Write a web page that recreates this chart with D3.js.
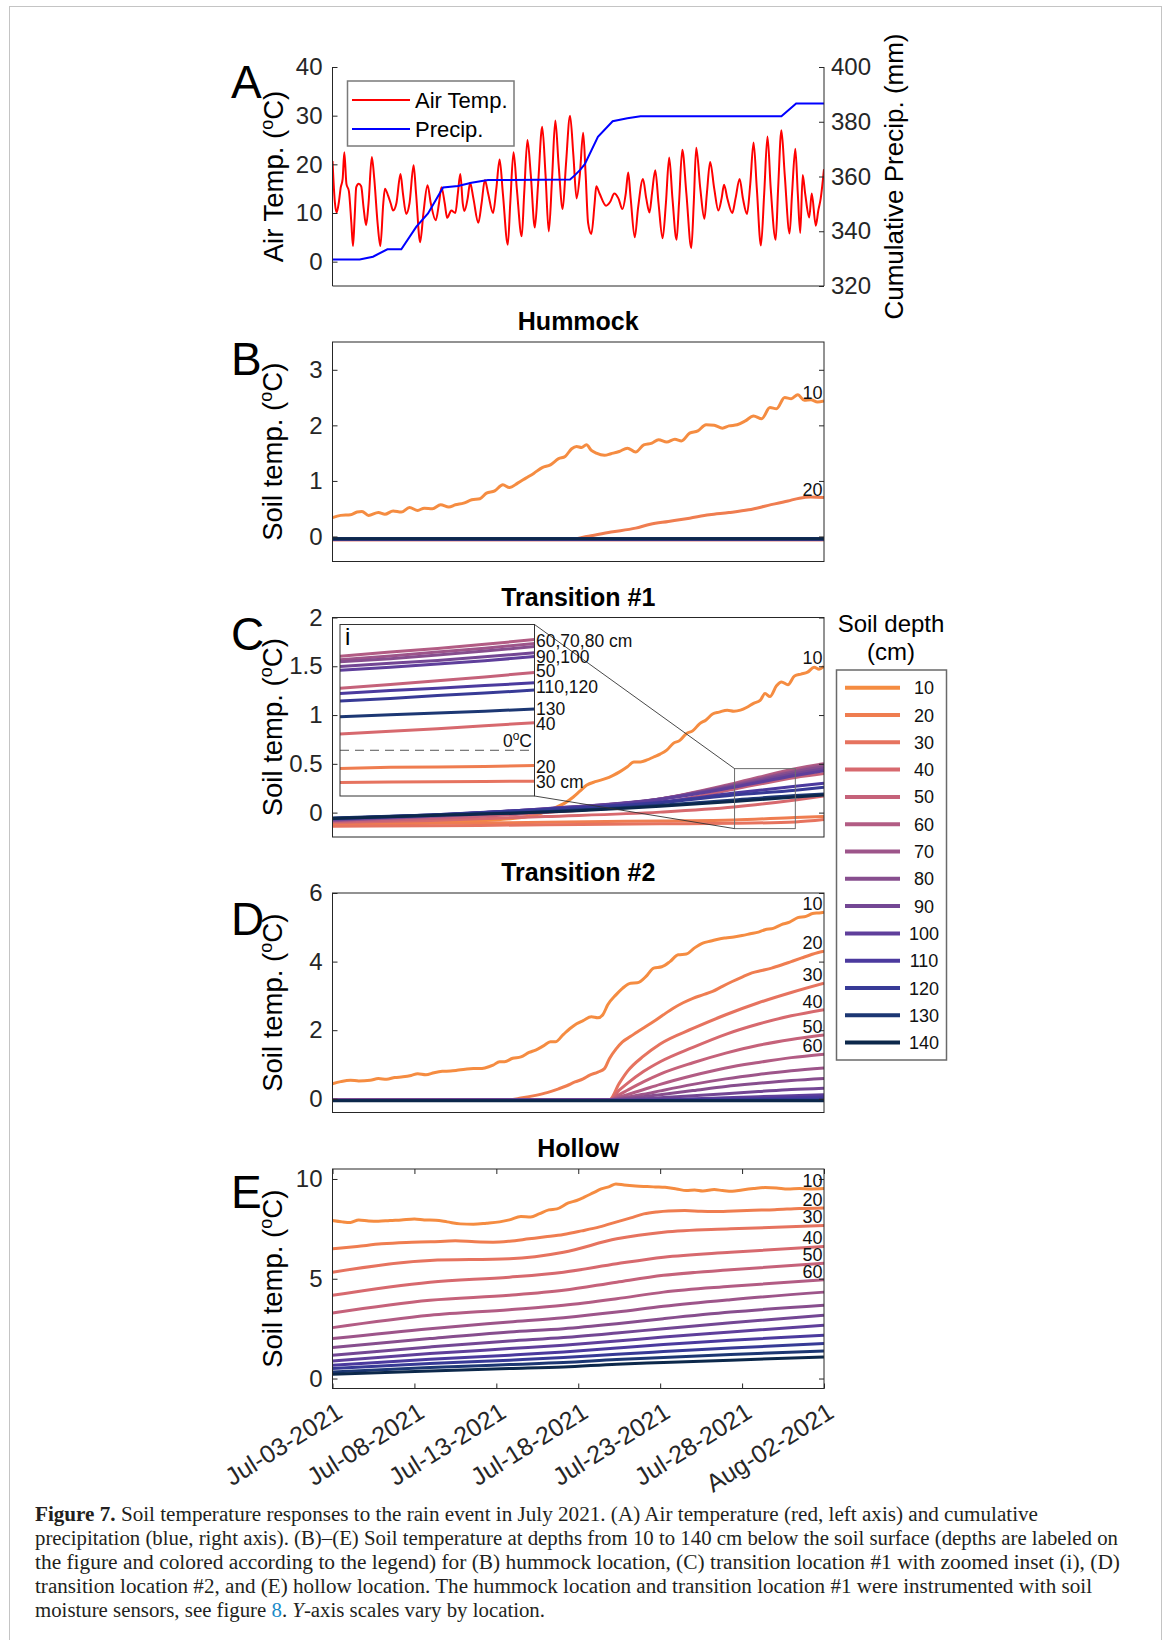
<!DOCTYPE html>
<html><head><meta charset="utf-8">
<script src="https://cdn.jsdelivr.net/npm/d3@7"></script>
<style>
body{margin:0;background:#fff;}
svg{display:block;font-family:"Liberation Sans",Arial,Helvetica,sans-serif;}
</style></head><body>
<svg id="fig" width="1171" height="1640"></svg>
<script>
// ================= DATA =================
const startDate = Date.UTC(2021, 6, 3);
const endDate = Date.UTC(2021, 7, 2);
const dateTicks = [0, 5, 10, 15, 20, 25, 30]; // days after Jul-03-2021
const depths = [10, 20, 30, 40, 50, 60, 70, 80, 90, 100, 110, 120, 130, 140];
const depthColors = ["#f58c41", "#ef7d50", "#e6735f", "#d7696e", "#c5627a", "#b25c84", "#9d558a",
  "#874e8e", "#734794", "#5f3f9b", "#4b3a9e", "#373a96", "#1c3773", "#0c284b"];

const airTicks = [0, 10, 20, 30, 40];
const precipTicks = [320, 340, 360, 380, 400];
const hummockTicks = [0, 1, 2, 3];
const trans1Ticks = [0, 0.5, 1, 1.5, 2];
const trans2Ticks = [0, 2, 4, 6];
const hollowTicks = [0, 5, 10];

// Panel A: air temperature [day, degC]
const airTemp = [[0,20.7],[0.15,12],[0.25,10.1],[0.4,12.5],[0.5,15.2],[0.62,17],[0.72,22.5],[0.85,16],[1,14.5],[1.15,8],[1.25,3.2],[1.35,9],[1.45,15.3],[1.6,16],[1.75,15.5],[1.9,11],[2.05,7.5],[2.2,12],[2.4,21.5],[2.55,17],[2.75,8],[2.92,3.2],[3.1,12],[3.2,15],[3.4,13.5],[3.55,12],[3.7,10.5],[3.9,12],[4.15,18],[4.3,14],[4.5,9.8],[4.7,12],[4.95,19.8],[5.1,14],[5.35,4],[5.55,10],[5.8,15.7],[6,12],[6.3,8.5],[6.5,12],[6.65,15.3],[6.85,12],[7,9],[7.25,10.5],[7.5,10],[7.65,14],[7.8,18],[7.95,12],[8.05,10.4],[8.25,13],[8.4,16.2],[8.6,13],[8.9,8],[9.1,12],[9.3,16.8],[9.5,14],[9.8,10],[10,15],[10.2,21],[10.4,14],[10.7,3.5],[10.85,12],[11.05,22.5],[11.25,15],[11.55,5.2],[11.7,14],[11.9,25],[12.1,18],[12.35,7],[12.55,16],[12.8,27.7],[13,18],[13.2,6.2],[13.4,17],[13.6,29],[13.8,20],[14.05,10.8],[14.25,20],[14.5,30],[14.7,22],[14.9,13],[15.1,18],[15.3,26.5],[15.45,18],[15.6,8],[15.8,5.7],[16,12],[16.1,15.5],[16.3,14],[16.7,11.5],[16.95,12.3],[17.2,14],[17.45,13],[17.7,10.8],[17.9,14],[18.05,18.3],[18.2,13],[18.45,5],[18.65,11],[18.95,17],[19.15,13],[19.35,10.1],[19.5,14],[19.7,18.8],[19.9,12],[20.15,4.8],[20.35,12],[20.55,21.4],[20.75,13],[21,4.5],[21.15,12],[21.35,23],[21.6,14],[21.9,2.8],[22.05,12],[22.2,23.4],[22.45,15],[22.7,8.8],[22.85,14],[23.05,20.5],[23.3,15],[23.55,10.5],[23.75,13],[23.9,15.8],[24.1,13],[24.4,10],[24.6,13],[24.85,17],[25.05,13],[25.3,9.8],[25.5,16],[25.7,24.5],[25.9,15],[26.15,3.3],[26.35,14],[26.55,25.7],[26.75,15],[27.05,4.5],[27.2,15],[27.4,27],[27.6,18],[27.9,5.8],[28.05,14],[28.25,23.2],[28.4,14],[28.55,5.9],[28.7,17.8],[28.85,14],[29.1,9.1],[29.25,14],[29.5,7.4],[29.65,10.5],[29.8,13],[30,19]];

// Panel A: cumulative precipitation [day, mm]
const cumPrecip = [[0,329.7],[1.66,329.7],[2.47,330.7],[3.35,333.4],[4.2,333.4],[5.12,341.7],[5.83,346.5],[6.75,356],[7.66,356.5],[8.48,357.7],[9.49,358.7],[14.5,358.9],[14.8,360.5],[15.1,362.3],[15.4,364.5],[16.2,374.5],[17.1,380.2],[18,381.3],[18.8,382],[27.4,382],[28.3,386.7],[30,386.7]];

// Panel B: hummock
const hummockLine10 = [[0,0.34],[0.5,0.38],[1.1,0.39],[1.5,0.44],[1.8,0.45],[2.2,0.38],[2.8,0.43],[3.2,0.4],[3.7,0.46],[4.2,0.44],[4.7,0.52],[5.2,0.47],[5.6,0.51],[6.1,0.5],[6.6,0.57],[7.1,0.53],[7.5,0.57],[8,0.6],[8.5,0.66],[9,0.68],[9.4,0.78],[9.9,0.82],[10.4,0.93],[10.8,0.88],[11.3,0.96],[11.8,1.05],[12.3,1.14],[12.8,1.24],[13.3,1.29],[13.8,1.4],[14.2,1.44],[14.6,1.58],[14.9,1.62],[15.2,1.6],[15.5,1.65],[15.8,1.55],[16.1,1.5],[16.6,1.46],[17,1.49],[17.5,1.53],[18,1.59],[18.5,1.52],[19,1.65],[19.5,1.68],[19.9,1.74],[20.4,1.7],[20.9,1.75],[21.3,1.72],[21.8,1.86],[22.3,1.9],[22.8,2.01],[23.3,2],[23.8,1.95],[24.2,1.99],[24.7,2.01],[25.2,2.08],[25.7,2.17],[26.2,2.12],[26.7,2.32],[27.1,2.3],[27.6,2.5],[28,2.48],[28.4,2.55],[28.8,2.45],[29.2,2.46],[29.6,2.42],[30,2.44]];
const hummockLine20 = [[0,-0.05],[14.5,-0.05],[15.5,0],[17,0.08],[18.5,0.15],[19.4,0.22],[20.5,0.27],[21.8,0.33],[23,0.39],[24.2,0.43],[25.4,0.48],[26.6,0.56],[27.8,0.64],[28.5,0.69],[29.2,0.71],[30,0.7]];
const hummockDeepDays = [0, 30];
const hummockDeep = [ // depths 30..140
  [-0.06,-0.06],[-0.06,-0.06],[-0.055,-0.055],[-0.055,-0.055],[-0.05,-0.05],[-0.05,-0.05],
  [-0.045,-0.045],[-0.045,-0.045],[-0.045,-0.045],[-0.04,-0.04],[-0.04,-0.04],[-0.04,-0.04]];

// Panel C: transition #1
const trans1Line10 = [[0,-0.12],[4,-0.11],[8,-0.09],[11,-0.06],[12.5,-0.02],[13.7,0.06],[14.2,0.1],[14.7,0.16],[15.1,0.22],[15.5,0.28],[16.1,0.32],[16.7,0.35],[17.1,0.38],[17.55,0.42],[18,0.47],[18.4,0.52],[18.8,0.52],[19.2,0.54],[19.6,0.57],[20,0.6],[20.4,0.64],[20.8,0.71],[21.2,0.74],[21.6,0.81],[22,0.84],[22.4,0.91],[22.8,0.95],[23.2,1.01],[23.6,1.03],[24.1,1.05],[24.5,1.04],[24.9,1.05],[25.3,1.08],[25.7,1.12],[26.1,1.15],[26.4,1.22],[26.7,1.19],[27.1,1.3],[27.4,1.34],[27.8,1.31],[28.2,1.4],[28.6,1.42],[29,1.44],[29.4,1.49],[29.7,1.47],[30,1.5]];
const trans1Days = [0, 6, 13, 20, 24.5, 28.25, 30];
const trans1Deep = [ // depths 20..140
  [-0.12,-0.11,-0.1,-0.085,-0.075,-0.05,-0.04],
  [-0.14,-0.135,-0.125,-0.115,-0.11,-0.095,-0.07],
  [-0.1,-0.08,-0.04,0.005,0.057,0.13,0.17],
  [-0.09,-0.06,0,0.1,0.24,0.36,0.4],
  [-0.08,-0.04,0.03,0.14,0.3,0.45,0.5],
  [-0.08,-0.04,0.03,0.14,0.29,0.43,0.49],
  [-0.075,-0.035,0.035,0.14,0.28,0.42,0.47],
  [-0.07,-0.03,0.04,0.14,0.27,0.4,0.45],
  [-0.065,-0.03,0.04,0.135,0.26,0.38,0.43],
  [-0.06,-0.025,0.035,0.11,0.2,0.27,0.3],
  [-0.06,-0.025,0.03,0.1,0.18,0.23,0.26],
  [-0.055,-0.025,0.01,0.075,0.13,0.175,0.19],
  [-0.06,-0.03,0.005,0.065,0.115,0.16,0.18]];
// Inset (i) of panel C
const insetWindowDays = [24.54, 28.25];
const insetWindowTemps = [-0.164, 0.451];
const insetDays = [24.54, 25.5, 26.4, 27.3, 28.25];
const insetTemps = [ // depths 10..140 (null = not shown)
  null,
  [-0.065,-0.061,-0.06,-0.058,-0.055],
  [-0.116,-0.114,-0.113,-0.112,-0.111],
  [0.058,0.068,0.077,0.088,0.099],
  [0.222,0.236,0.249,0.263,0.279],
  [0.337,0.352,0.365,0.38,0.397],
  [0.325,0.338,0.352,0.366,0.383],
  [0.317,0.328,0.342,0.356,0.372],
  [0.3,0.312,0.322,0.335,0.35],
  [0.287,0.298,0.309,0.321,0.336],
  [0.204,0.214,0.222,0.232,0.242],
  [0.177,0.186,0.196,0.205,0.216],
  [0.12,0.127,0.134,0.14,0.148],
  null];
const insetLabels = ["60,70,80 cm", "90,100", "50", "110,120", "130", "40", "20", "30 cm"];
const insetLabelTemps = [0.369, 0.313, 0.263, 0.205, 0.125, 0.074, -0.082, -0.135];

// Panel D: transition #2
const trans2Line10 = [[0,0.44],[0.5,0.5],[1.1,0.54],[1.6,0.52],[2.3,0.54],[2.8,0.59],[3.3,0.57],[3.8,0.62],[4.3,0.64],[4.8,0.68],[5.2,0.73],[5.7,0.7],[6.2,0.76],[6.7,0.8],[7.2,0.81],[7.6,0.83],[8.1,0.86],[8.6,0.88],[9,0.88],[9.3,0.9],[9.8,0.98],[10.2,1.08],[10.5,1.08],[11,1.18],[11.5,1.22],[12,1.35],[12.4,1.42],[12.9,1.55],[13.3,1.66],[13.6,1.66],[14.1,1.88],[14.5,2.05],[14.9,2.19],[15.3,2.28],[15.8,2.39],[16.2,2.36],[16.5,2.45],[16.8,2.74],[17.3,3.03],[17.7,3.22],[18.2,3.37],[18.6,3.38],[19.2,3.6],[19.6,3.81],[20.1,3.85],[20.6,4],[21.1,4.2],[21.6,4.22],[22.1,4.4],[22.6,4.54],[23.1,4.6],[23.6,4.66],[24,4.69],[24.5,4.72],[25,4.76],[25.5,4.81],[26,4.86],[26.4,4.93],[26.9,4.97],[27.4,5.08],[27.9,5.15],[28.4,5.28],[28.9,5.32],[29.3,5.4],[29.7,5.42],[30,5.44]];
const trans2Line20 = [[0,-0.04],[10.8,-0.03],[11.5,0.02],[12.4,0.1],[13.1,0.18],[13.8,0.29],[14.3,0.38],[14.8,0.49],[15.3,0.58],[15.7,0.69],[16.2,0.78],[16.6,0.88],[16.9,1.17],[17.3,1.45],[17.7,1.66],[18.2,1.82],[18.6,1.95],[19.1,2.1],[19.6,2.25],[20.2,2.45],[20.8,2.64],[21.4,2.8],[22,2.93],[22.6,3.03],[23.2,3.13],[23.8,3.28],[24.4,3.42],[25,3.55],[25.6,3.67],[26.2,3.74],[26.8,3.81],[27.4,3.9],[28,4],[28.6,4.1],[29.2,4.2],[29.6,4.26],[30,4.3]];
const trans2Days = [0, 16.9, 17.5, 18, 19, 20, 22, 24, 26, 28, 30];
const trans2Deep = [ // depths 30..140
  [-0.04,-0.03,0.45,0.8,1.25,1.6,2.05,2.45,2.8,3.1,3.37],
  [-0.04,-0.03,0.25,0.45,0.8,1.08,1.5,1.88,2.18,2.42,2.6],
  [-0.04,-0.03,0.12,0.25,0.5,0.72,1.05,1.33,1.56,1.73,1.86],
  [-0.04,-0.03,0.05,0.12,0.27,0.42,0.68,0.9,1.06,1.2,1.3],
  [-0.04,-0.03,0.01,0.05,0.13,0.23,0.42,0.58,0.71,0.82,0.9],
  [-0.04,-0.03,-0.01,0.01,0.06,0.12,0.24,0.36,0.45,0.53,0.59],
  [-0.04,-0.035,-0.03,-0.02,0,0.03,0.09,0.15,0.21,0.27,0.31],
  [-0.045,-0.04,-0.04,-0.04,-0.03,-0.02,0,0.03,0.06,0.09,0.12],
  [-0.045,-0.045,-0.045,-0.045,-0.045,-0.04,-0.03,-0.015,0,0.03,0.05],
  [-0.05,-0.05,-0.05,-0.05,-0.05,-0.05,-0.045,-0.04,-0.03,-0.02,-0.01],
  [-0.05,-0.05,-0.05,-0.05,-0.05,-0.05,-0.05,-0.05,-0.05,-0.05,-0.05],
  [-0.06,-0.06,-0.06,-0.06,-0.06,-0.06,-0.06,-0.06,-0.06,-0.06,-0.06]];

// Panel E: hollow
const hollowLine10 = [[0,7.92],[0.6,7.85],[1.1,7.82],[1.6,7.95],[2.2,7.9],[2.8,7.88],[3.5,7.92],[4.2,7.95],[5,8],[5.6,7.95],[6.3,7.93],[7,7.85],[7.8,7.75],[8.6,7.73],[9.4,7.78],[10.2,7.85],[10.8,7.95],[11.5,8.12],[12.1,8.1],[12.6,8.25],[13.2,8.45],[13.7,8.5],[14.4,8.8],[14.9,8.92],[15.4,9.1],[15.9,9.3],[16.4,9.5],[16.9,9.62],[17.3,9.75],[17.8,9.7],[18.5,9.65],[19.2,9.62],[19.7,9.6],[20.3,9.58],[21,9.5],[21.6,9.42],[22.1,9.45],[22.6,9.4],[23.3,9.47],[23.8,9.42],[24.4,9.38],[25,9.45],[25.7,9.52],[26.4,9.57],[27.1,9.55],[27.8,9.5],[28.5,9.52],[29.2,9.5],[30,9.52]];
const hollowLine20 = [[0,6.5],[1.5,6.62],[3,6.75],[4.5,6.82],[6,6.85],[7.5,6.9],[8.7,6.85],[9.8,6.83],[10.8,6.88],[12,7],[13,7.1],[14.1,7.22],[15.2,7.4],[16.3,7.6],[17.35,7.85],[18.2,8.05],[19,8.25],[19.8,8.35],[20.5,8.4],[21.5,8.42],[22.5,8.38],[23.3,8.37],[24.5,8.4],[25.7,8.43],[27,8.46],[28.5,8.52],[30,8.55]];
const hollowDays = [0, 5.95, 10.8, 14.1, 17.35, 20.2, 24.3, 30];
const hollowDeep = [ // depths 30..140
  [5.33,5.92,6,6.33,7,7.33,7.5,7.67],
  [4.17,4.83,5.08,5.33,5.75,6.08,6.33,6.62],
  [3.28,3.92,4.17,4.42,4.83,5.17,5.45,5.78],
  [2.55,3.17,3.45,3.67,4,4.33,4.62,4.95],
  [2,2.5,2.83,3.05,3.33,3.62,3.95,4.33],
  [1.55,2,2.33,2.5,2.75,3,3.33,3.67],
  [1.17,1.58,1.88,2.05,2.28,2.5,2.8,3.17],
  [0.88,1.25,1.5,1.67,1.88,2.08,2.33,2.67],
  [0.67,0.97,1.17,1.33,1.53,1.7,1.92,2.17],
  [0.5,0.75,0.92,1.05,1.22,1.35,1.53,1.75],
  [0.33,0.55,0.7,0.8,0.95,1.05,1.2,1.38],
  [0.22,0.38,0.5,0.58,0.72,0.8,0.92,1.08]];

const captionLines = [
  ["Figure 7.", " Soil temperature responses to the rain event in July 2021. (A) Air temperature (red, left axis) and cumulative"],
  ["", "precipitation (blue, right axis). (B)–(E) Soil temperature at depths from 10 to 140 cm below the soil surface (depths are labeled on"],
  ["", "the figure and colored according to the legend) for (B) hummock location, (C) transition location #1 with zoomed inset (i), (D)"],
  ["", "transition location #2, and (E) hollow location. The hummock location and transition location #1 were instrumented with soil"]
];

// ================= LAYOUT =================
const X0 = 332.5, X1 = 824, H = 219.5;
const AXC = "#262626";
const svg = d3.select("#fig");
svg.append("rect").attr("width", 1171).attr("height", 1640).attr("fill", "#fff");
svg.append("rect").attr("x", 9.5).attr("y", 6.5).attr("width", 1152).attr("height", 1700)
  .attr("fill", "none").attr("stroke", "#c4c4c4").attr("stroke-width", 1);

const x = d3.scaleUtc().domain([startDate, endDate]).range([X0, X1]);
const toDate = d => new Date(startDate + d * 864e5);
const grid = (days, vals) => days.map((d, j) => [d, vals[j]]);
const defs = svg.append("defs");

function yTitle(xp, yp, pre, post, fs) {
  const t = svg.append("text").attr("transform", `translate(${xp},${yp}) rotate(-90)`)
    .attr("text-anchor", "middle").attr("font-size", fs || 27.5).attr("fill", "#000");
  t.append("tspan").text(pre);
  if (post !== undefined) {
    t.append("tspan").attr("font-size", 18).attr("dy", -10.5).text("o");
    t.append("tspan").attr("dy", 10.5).text(post);
  }
}
function letter(ch, yb) {
  svg.append("text").attr("x", 231).attr("y", yb).attr("font-size", 46).attr("fill", "#000").text(ch);
}
function styleAxis(g) {
  g.attr("font-size", 24).attr("font-family", '"Liberation Sans",Arial,sans-serif').attr("color", AXC);
  g.select(".domain").remove();
}

// ---------- Panel A ----------
const A_TOP = 67, A_BOT = 286;
const yA = d3.scaleLinear().domain([-5, 40]).range([A_BOT, A_TOP]);
const yP = d3.scaleLinear().domain([320, 400]).range([A_BOT, A_TOP]);
defs.append("clipPath").attr("id", "clipA").append("rect")
  .attr("x", X0).attr("y", A_TOP).attr("width", X1 - X0).attr("height", A_BOT - A_TOP);
const gA = svg.append("g");
const gAl = gA.append("g").attr("clip-path", "url(#clipA)");
gAl.append("path").datum(airTemp).attr("fill", "none").attr("stroke", "#ff0000").attr("stroke-width", 2)
  .attr("stroke-linejoin", "round")
  .attr("d", d3.line().x(d => x(toDate(d[0]))).y(d => yA(d[1])).curve(d3.curveMonotoneX));
gAl.append("path").datum(cumPrecip).attr("fill", "none").attr("stroke", "#0000ff").attr("stroke-width", 2)
  .attr("d", d3.line().x(d => x(toDate(d[0]))).y(d => yP(d[1])));
const axAL = gA.append("g").attr("transform", `translate(${X0},0)`)
  .call(d3.axisLeft(yA).tickValues(airTicks).tickSize(-5).tickPadding(10));
styleAxis(axAL);
const axAR = gA.append("g").attr("transform", `translate(${X1},0)`)
  .call(d3.axisRight(yP).tickValues(precipTicks).tickSize(-5).tickPadding(7));
styleAxis(axAR);
gA.append("line").attr("x1", X0).attr("x2", X0).attr("y1", A_TOP).attr("y2", A_BOT).attr("stroke", AXC);
gA.append("line").attr("x1", X1).attr("x2", X1).attr("y1", A_TOP).attr("y2", A_BOT).attr("stroke", AXC);
gA.append("line").attr("x1", X0).attr("x2", X1).attr("y1", A_BOT).attr("y2", A_BOT).attr("stroke", AXC);
// legend A
const lgA = gA.append("g");
lgA.append("rect").attr("x", 347.5).attr("y", 81).attr("width", 166.5).attr("height", 65)
  .attr("fill", "#fff").attr("stroke", "#7a7a7a").attr("stroke-width", 1.5);
[["Air Temp.", "#ff0000", 100], ["Precip.", "#0000ff", 129]].forEach(([t, c, yy]) => {
  lgA.append("line").attr("x1", 352).attr("x2", 410).attr("y1", yy).attr("y2", yy).attr("stroke", c).attr("stroke-width", 2);
  lgA.append("text").attr("x", 415).attr("y", yy + 8).attr("font-size", 22).attr("fill", "#000").text(t);
});
letter("A", 98);
yTitle(283, 176.5, "Air Temp. (", "C)");
yTitle(903, 176.5, "Cumulative Precip. (mm)", undefined, 26);

// ---------- Soil panels ----------
const lineGen = y => d3.line().x(d => x(toDate(d[0]))).y(d => y(d[1])).curve(d3.curveMonotoneX);

function soilPanel(id, top, domain, ticks, title, ch, chY, series, labelDepths, xTicks) {
  const bot = top + H;
  const y = d3.scaleLinear().domain(domain).range([bot, top]);
  defs.append("clipPath").attr("id", "clip" + id).append("rect")
    .attr("x", X0).attr("y", top).attr("width", X1 - X0).attr("height", H);
  const g = svg.append("g");
  const gl = g.append("g").attr("clip-path", `url(#clip${id})`);
  series.forEach((s, i) => {
    if (!s) return;
    gl.append("path").datum(s).attr("fill", "none").attr("stroke", depthColors[i])
      .attr("stroke-width", 3).attr("stroke-linejoin", "round").attr("d", lineGen(y));
  });
  const al = g.append("g").attr("transform", `translate(${X0},0)`)
    .call(d3.axisLeft(y).tickValues(ticks).tickSize(-5).tickPadding(10).tickFormat(d3.format("~g")));
  styleAxis(al);
  const ar = g.append("g").attr("transform", `translate(${X1},0)`)
    .call(d3.axisRight(y).tickValues(ticks).tickSize(-5).tickFormat(""));
  styleAxis(ar);
  if (xTicks) {
    const ab = g.append("g").attr("transform", `translate(0,${bot})`)
      .call(d3.axisBottom(x).tickValues(xTicks.map(toDate)).tickSize(-5).tickFormat(d3.utcFormat("%b-%d-%Y")));
    styleAxis(ab);
    ab.attr("font-size", 25);
    ab.selectAll("text").attr("x", 0).attr("y", 0).attr("dy", 0).attr("text-anchor", "end")
      .attr("transform", "translate(11,28) rotate(-32)");
    const at = g.append("g").attr("transform", `translate(0,${top})`)
      .call(d3.axisTop(x).tickValues(xTicks.map(toDate)).tickSize(-5).tickFormat(""));
    styleAxis(at);
  }
  g.append("rect").attr("x", X0).attr("y", top).attr("width", X1 - X0).attr("height", H)
    .attr("fill", "none").attr("stroke", AXC).attr("stroke-width", 1);
  svg.append("text").attr("x", (X0 + X1) / 2).attr("y", top - 12).attr("text-anchor", "middle")
    .attr("font-size", 25).attr("font-weight", "bold").attr("fill", "#000").text(title);
  letter(ch, chY);
  yTitle(282, top + H / 2, "Soil temp. (", "C)");
  const lab = svg.append("g");
  labelDepths.forEach(dp => {
    const s = series[depths.indexOf(dp)];
    lab.append("text").attr("x", 812.5).attr("y", y(s[s.length - 1][1]) - 2)
      .attr("text-anchor", "middle").attr("font-size", 18).attr("fill", "#111").text(dp);
  });
  return { y, g };
}

const hummockSeries = [hummockLine10, hummockLine20, ...hummockDeep.map(v => grid(hummockDeepDays, v))];
soilPanel("B", 342, [-0.45, 3.5], hummockTicks, "Hummock", "B", 375, hummockSeries, [10, 20], null);

const trans1Series = [trans1Line10, ...trans1Deep.map(v => grid(trans1Days, v))];
const pC = soilPanel("C", 617.5, [-0.25, 2], trans1Ticks, "Transition #1", "C", 650, trans1Series, [10], null);

const trans2Series = [trans2Line10, trans2Line20, ...trans2Deep.map(v => grid(trans2Days, v))];
soilPanel("D", 893, [-0.4, 6], trans2Ticks, "Transition #2", "D", 935, trans2Series, [10, 20, 30, 40, 50, 60], null);

const hollowSeries = [hollowLine10, hollowLine20, ...hollowDeep.map(v => grid(hollowDays, v))];
soilPanel("E", 1169, [-0.5, 10.5], hollowTicks, "Hollow", "E", 1208, hollowSeries, [10, 20, 30, 40, 50, 60], dateTicks);

// ---------- Inset (i) in panel C ----------
(function () {
  const yC = pC.y;
  const rx0 = x(toDate(insetWindowDays[0])), rx1 = x(toDate(insetWindowDays[1]));
  const ry0 = yC(insetWindowTemps[1]), ry1 = yC(insetWindowTemps[0]);
  const IX0 = 340, IX1 = 534.5, IY0 = 624.5, IY1 = 796;
  const g = svg.append("g");
  g.append("rect").attr("x", rx0).attr("y", ry0).attr("width", rx1 - rx0).attr("height", ry1 - ry0)
    .attr("fill", "none").attr("stroke", "#6e6e6e").attr("stroke-width", 1);
  g.append("line").attr("x1", IX1).attr("y1", IY0).attr("x2", rx0).attr("y2", ry0).attr("stroke", "#333").attr("stroke-width", 0.9);
  g.append("line").attr("x1", IX1).attr("y1", IY1).attr("x2", rx0).attr("y2", ry1).attr("stroke", "#333").attr("stroke-width", 0.9);
  g.append("rect").attr("x", IX0).attr("y", IY0).attr("width", IX1 - IX0).attr("height", IY1 - IY0).attr("fill", "#fff");
  const xi = d3.scaleLinear().domain(insetWindowDays).range([IX0, IX1]);
  const yi = d3.scaleLinear().domain(insetWindowTemps).range([IY1, IY0]);
  defs.append("clipPath").attr("id", "clipI").append("rect").attr("x", IX0).attr("y", IY0).attr("width", IX1 - IX0).attr("height", IY1 - IY0);
  const gl = g.append("g").attr("clip-path", "url(#clipI)");
  gl.append("line").attr("x1", IX0).attr("x2", IX1).attr("y1", yi(0)).attr("y2", yi(0))
    .attr("stroke", "#555").attr("stroke-width", 1).attr("stroke-dasharray", "9,6");
  insetTemps.forEach((v, i) => {
    if (!v) return;
    gl.append("path").datum(grid(insetDays, v)).attr("fill", "none").attr("stroke", depthColors[i])
      .attr("stroke-width", 3).attr("d", d3.line().x(d => xi(d[0])).y(d => yi(d[1])));
  });
  g.append("rect").attr("x", IX0).attr("y", IY0).attr("width", IX1 - IX0).attr("height", IY1 - IY0)
    .attr("fill", "none").attr("stroke", "#333").attr("stroke-width", 1);
  g.append("text").attr("x", 345).attr("y", 645).attr("font-size", 24).attr("fill", "#000").text("i");
  const zt = g.append("text").attr("x", 532).attr("y", yi(0) - 3).attr("text-anchor", "end").attr("font-size", 17.5).attr("fill", "#111");
  zt.append("tspan").text("0");
  zt.append("tspan").attr("font-size", 12).attr("dy", -7).text("o");
  zt.append("tspan").attr("dy", 7).text("C");
  insetLabels.forEach((t, k) => {
    g.append("text").attr("x", 536).attr("y", yi(insetLabelTemps[k])).attr("font-size", 17.5).attr("fill", "#111").text(t);
  });
})();

// ---------- Depth legend ----------
(function () {
  const g = svg.append("g");
  g.append("text").attr("x", 891).attr("y", 632).attr("text-anchor", "middle").attr("font-size", 24).attr("fill", "#000").text("Soil depth");
  g.append("text").attr("x", 891).attr("y", 660).attr("text-anchor", "middle").attr("font-size", 24).attr("fill", "#000").text("(cm)");
  g.append("rect").attr("x", 836.5).attr("y", 670).attr("width", 110).attr("height", 390)
    .attr("fill", "#fff").attr("stroke", "#6a6a6a").attr("stroke-width", 1.5);
  depths.forEach((dp, i) => {
    const yy = 687.7 + i * 27.3;
    g.append("line").attr("x1", 845).attr("x2", 900).attr("y1", yy).attr("y2", yy)
      .attr("stroke", depthColors[i]).attr("stroke-width", 4);
    g.append("text").attr("x", 924).attr("y", yy + 6.5).attr("text-anchor", "middle")
      .attr("font-size", 18).attr("fill", "#111").text(dp);
  });
})();

// ---------- Caption ----------
(function () {
  const widths = [1003, 1083, 1085, 1057];
  const cap = svg.append("g").attr("font-family", '"Liberation Serif","Times New Roman",serif').attr("fill", "#231f20");
  captionLines.forEach((ln, i) => {
    const t = cap.append("text").attr("x", 35).attr("y", 1521 + i * 24).attr("font-size", 20)
      .attr("textLength", widths[i]).attr("lengthAdjust", "spacingAndGlyphs");
    if (ln[0]) t.append("tspan").attr("font-weight", "bold").text(ln[0]);
    t.append("tspan").text(ln[1]);
  });
  const t5 = cap.append("text").attr("x", 35).attr("y", 1521 + 4 * 24).attr("font-size", 20)
    .attr("textLength", 510).attr("lengthAdjust", "spacingAndGlyphs");
  t5.append("tspan").text("moisture sensors, see figure ");
  t5.append("tspan").attr("fill", "#1a8bc9").text("8");
  t5.append("tspan").text(". ");
  t5.append("tspan").attr("font-style", "italic").text("Y");
  t5.append("tspan").text("-axis scales vary by location.");
})();
</script>
</body></html>
